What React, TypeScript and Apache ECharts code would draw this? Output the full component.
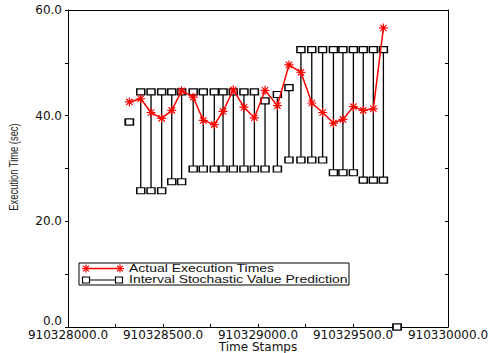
import React, { useEffect, useRef } from "react";
import * as echarts from "echarts";

// ---- data ----
const actualTimes = [
  910328323, 910328383, 910328437, 910328493, 910328546, 910328598, 910328659,
  910328712, 910328770, 910328816, 910328870, 910328926, 910328981, 910329037,
  910329102, 910329163, 910329226, 910329283, 910329340, 910329397, 910329447,
  910329502, 910329554, 910329607, 910329660,
];
const actualValues = [
  42.6, 43.2, 40.6, 39.5, 41.0, 44.7, 43.5, 39.1, 38.3, 40.8, 44.9, 41.6, 39.6,
  44.8, 41.9, 49.6, 48.2, 42.4, 40.6, 38.6, 39.3, 41.7, 41.0, 41.3, 56.6,
];
const intervalTimes = [
  910328323, 910328383, 910328437, 910328493, 910328546, 910328598, 910328659,
  910328712, 910328770, 910328816, 910328870, 910328926, 910328981, 910329037,
  910329102, 910329163, 910329226, 910329283, 910329340, 910329397, 910329447,
  910329502, 910329554, 910329607, 910329660, 910329732,
];
const intervalLow = [
  38.8, 25.8, 25.8, 25.8, 27.5, 27.5, 29.9, 29.9, 29.9, 29.9, 29.9, 29.9, 29.9,
  29.9, 29.9, 31.6, 31.6, 31.6, 31.6, 29.2, 29.2, 29.2, 27.8, 27.8, 27.8, 0,
];
const intervalHigh = [
  38.8, 44.5, 44.5, 44.5, 44.5, 44.5, 44.5, 44.5, 44.5, 44.5, 44.5, 44.5, 44.5,
  42.8, 44.0, 45.3, 52.5, 52.5, 52.5, 52.5, 52.5, 52.5, 52.5, 52.5, 52.5, 0,
];
const xTicks = { min: 910328000, max: 910330000, step: 500 };
const yTicks = { min: 0, max: 60, step: 20 };
const legendNames = ["Actual Execution Times", "Interval Stochastic Value Prediction"];
const axisNames = { x: "Time Stamps", y: "Execution Time (sec)" };

const ASTERISK = "path://M0,5L10,5M5,0L5,10M1.5,1.5L8.5,8.5M1.5,8.5L8.5,1.5";
const LABEL_FONT = "DejaVu Sans";

function asteriskLines(cx: number, cy: number, r: number, color: string) {
  const d = r * 0.72;
  const segs = [
    [cx - r, cy, cx + r, cy],
    [cx, cy - r, cx, cy + r],
    [cx - d, cy - d, cx + d, cy + d],
    [cx - d, cy + d, cx + d, cy - d],
  ];
  return segs.map((s) => ({
    type: "line",
    shape: { x1: s[0], y1: s[1], x2: s[2], y2: s[3] },
    style: { stroke: color, lineWidth: 1.2 },
    z: 101,
  }));
}

export default function App() {
  const ref = useRef<HTMLDivElement>(null);
  useEffect(() => {
    if (!ref.current) return;
    const chart = echarts.init(ref.current, null, { renderer: "svg" });

    const intervalData: any[] = [];
    intervalTimes.forEach((t, i) => {
      intervalData.push([t, intervalLow[i]]);
      intervalData.push([t, intervalHigh[i]]);
      intervalData.push([t, "-"]);
    });
    const actualData = actualTimes.map((t, i) => [t, actualValues[i]]);

    const option: any = {
      animation: false,
      backgroundColor: "#ffffff",
      grid: {
        left: 68,
        right: 40,
        top: 10,
        bottom: 26,
        containLabel: false,
        outerBoundsMode: "none",
      },
      xAxis: [
        {
          type: "value",
          min: xTicks.min,
          max: xTicks.max,
          interval: xTicks.step,
          position: "bottom",
          axisLine: { show: true, lineStyle: { color: "#000", width: 1 } },
          axisTick: { show: true, inside: true, length: 3, lineStyle: { color: "#000" } },
          minorTick: { show: true, splitNumber: 2, length: 3, lineStyle: { color: "#000" } },
          axisLabel: {
            margin: 2,
            fontFamily: LABEL_FONT,
            fontSize: 12,
            lineHeight: 11,
            color: "#111",
            formatter: (v: number) => v.toFixed(1),
          },
          splitLine: { show: false },
        },
        {
          type: "value",
          min: xTicks.min,
          max: xTicks.max,
          interval: xTicks.step,
          position: "top",
          axisLine: { show: true, onZero: false, lineStyle: { color: "#000", width: 1 } },
          axisTick: { show: false },
          axisLabel: { show: false },
          splitLine: { show: false },
        },
      ],
      yAxis: [
        {
          type: "value",
          min: yTicks.min,
          max: yTicks.max,
          interval: yTicks.step,
          position: "left",
          axisLine: { show: true, lineStyle: { color: "#000", width: 1 } },
          axisTick: { show: true, inside: false, length: 3, lineStyle: { color: "#000" } },
          minorTick: { show: true, splitNumber: 2, length: 3, lineStyle: { color: "#000" } },
          axisLabel: {
            margin: 6,
            fontFamily: LABEL_FONT,
            fontSize: 12,
            color: "#111",
            verticalAlignMinLabel: "bottom",
            formatter: (v: number) => v.toFixed(1),
          },
          splitLine: { show: false },
        },
        {
          type: "value",
          min: yTicks.min,
          max: yTicks.max,
          interval: yTicks.step / 2,
          position: "right",
          axisLine: { show: true, onZero: false, lineStyle: { color: "#000", width: 1 } },
          axisTick: { show: true, inside: true, length: 3, lineStyle: { color: "#000" } },
          axisLabel: { show: false },
          splitLine: { show: false },
        },
      ],
      series: [
        {
          name: legendNames[1],
          type: "line",
          data: intervalData,
          connectNulls: false,
          showSymbol: true,
          symbol: "rect",
          symbolSize: [8, 6],
          lineStyle: { color: "#000", width: 1.3 },
          itemStyle: { color: "#ffffff", borderColor: "#000", borderWidth: 1.3 },
          clip: false,
          z: 2,
        },
        {
          name: legendNames[0],
          type: "line",
          data: actualData,
          showSymbol: true,
          symbol: ASTERISK,
          symbolSize: 9,
          lineStyle: { color: "#ff0000", width: 1.5 },
          itemStyle: { color: "#ff0000", borderColor: "#ff0000", borderWidth: 1.2 },
          z: 3,
        },
      ],
      graphic: [
        {
          type: "text",
          x: 14,
          y: 167,
          rotation: Math.PI / 2,
          scaleX: 0.78,
          style: {
            text: axisNames.y,
            font: "12px 'Liberation Sans'",
            fill: "#222",
            textAlign: "center",
            textVerticalAlign: "middle",
          },
          z: 100,
        },
        {
          type: "text",
          x: 258,
          y: 347,
          style: {
            text: axisNames.x,
            font: `12px '${LABEL_FONT}'`,
            lineHeight: 11,
            fill: "#111",
            textAlign: "center",
            textVerticalAlign: "middle",
          },
          z: 100,
        },
        {
          type: "rect",
          shape: { x: 79, y: 263, width: 270, height: 22 },
          style: { fill: "#ffffff", stroke: "#000", lineWidth: 1 },
          z: 100,
        },
        {
          type: "line",
          shape: { x1: 86, y1: 268.5, x2: 120, y2: 268.5 },
          style: { stroke: "#ff0000", lineWidth: 1.5 },
          z: 101,
        },
        ...asteriskLines(86, 268.5, 4, "#ff0000"),
        ...asteriskLines(120, 268.5, 4, "#ff0000"),
        {
          type: "text",
          x: 129,
          y: 268.5,
          scaleX: 1.27,
          style: {
            text: legendNames[0],
            font: "11px 'Liberation Sans'",
            fill: "#111",
            textVerticalAlign: "middle",
          },
          z: 101,
        },
        {
          type: "line",
          shape: { x1: 86, y1: 280, x2: 119, y2: 280 },
          style: { stroke: "#000", lineWidth: 1.2 },
          z: 101,
        },
        {
          type: "rect",
          shape: { x: 82.5, y: 277, width: 7, height: 6 },
          style: { fill: "#fff", stroke: "#000", lineWidth: 1.2 },
          z: 102,
        },
        {
          type: "rect",
          shape: { x: 115.5, y: 277, width: 7, height: 6 },
          style: { fill: "#fff", stroke: "#000", lineWidth: 1.2 },
          z: 102,
        },
        {
          type: "text",
          x: 129,
          y: 280,
          scaleX: 1.27,
          style: {
            text: legendNames[1],
            font: "11px 'Liberation Sans'",
            fill: "#111",
            textVerticalAlign: "middle",
          },
          z: 101,
        },
      ],
    };
    chart.setOption(option);
    return () => chart.dispose();
  }, []);

  return (
    <div
      ref={ref}
      style={{ position: "fixed", left: 0, top: 0, width: 488, height: 353 }}
    />
  );
}
